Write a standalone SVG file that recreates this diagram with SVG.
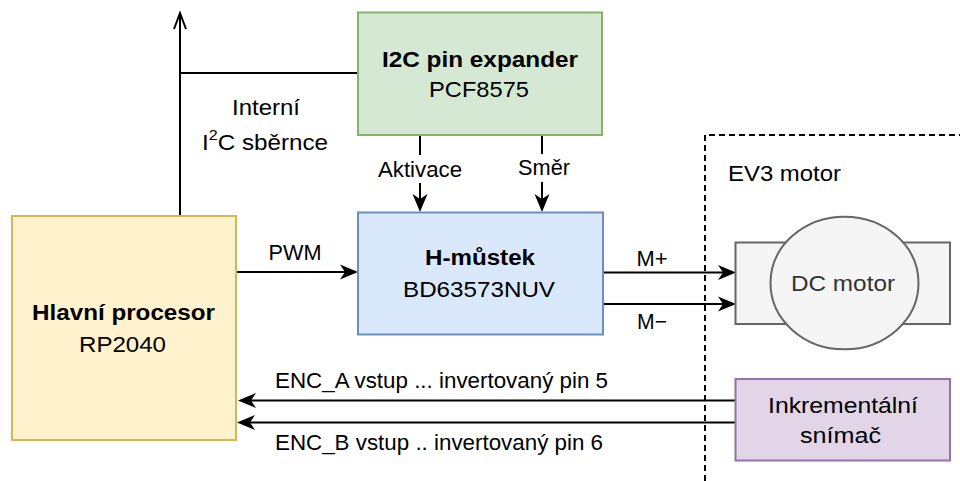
<svg xmlns="http://www.w3.org/2000/svg" width="960" height="481" viewBox="0 0 960 481">
<defs>
<style>
text{font-family:"Liberation Sans",Arial,Helvetica,sans-serif;font-size:22.5px;fill:#000;}
.m{text-anchor:middle;}
.b{font-weight:bold;}
.box{stroke-width:2;}
.ln{fill:none;stroke:#000;stroke-width:2;}
.arrow{marker-end:url(#arr);}
</style>
<marker id="arr" markerUnits="userSpaceOnUse" markerWidth="20" markerHeight="16" viewBox="0 0 20 16" refX="12" refY="8" orient="auto">
<path d="M18,8 L0,0.5 L5,8 L0,15.5 Z" fill="#000"/>
</marker>
</defs>
<rect width="960" height="481" fill="#fff"/>

<g id="ev3-frame">
<path d="M705,481 V135 H960" fill="none" stroke="#000" stroke-width="2" stroke-dasharray="6 4"/>
<text x="728" y="181" textLength="113" lengthAdjust="spacingAndGlyphs">EV3 motor</text>
</g>

<g id="connectors">
<path class="ln" d="M180,216 V14"/>
<polyline class="ln" points="174,29 180,13 186,29"/>
<path class="ln" d="M180,73 H358"/>
<path class="ln arrow" d="M236,272 H352"/>
<path class="ln arrow" d="M420,135 V206"/>
<path class="ln arrow" d="M542,135 V206"/>
<path class="ln arrow" d="M603,272.5 H730"/>
<path class="ln arrow" d="M603,304 H730"/>
<path class="ln arrow" d="M736,400.5 H244"/>
<path class="ln arrow" d="M736,422.5 H243"/>
<rect x="376" y="155" width="88" height="28" fill="#fff"/>
<rect x="516" y="154" width="56" height="28" fill="#fff"/>
<text class="m" x="420" y="176.5" textLength="84" lengthAdjust="spacingAndGlyphs">Aktivace</text>
<text class="m" x="544" y="175" textLength="52" lengthAdjust="spacingAndGlyphs">Směr</text>
<text class="m" x="266" y="115" textLength="68" lengthAdjust="spacingAndGlyphs">Interní</text>
<text class="m" x="265" y="150" textLength="126" lengthAdjust="spacingAndGlyphs">I<tspan dy="-10" font-size="15">2</tspan><tspan dy="10">C sběrnce</tspan></text>
<text class="m" x="295" y="260" textLength="53" lengthAdjust="spacingAndGlyphs">PWM</text>
<text class="m" x="652" y="266" textLength="31" lengthAdjust="spacingAndGlyphs">M+</text>
<text class="m" x="652" y="329" textLength="30" lengthAdjust="spacingAndGlyphs">M−</text>
<text class="m" x="441.5" y="388" textLength="333" lengthAdjust="spacingAndGlyphs">ENC_A vstup ... invertovaný pin 5</text>
<text class="m" x="439" y="450" textLength="328" lengthAdjust="spacingAndGlyphs">ENC_B vstup .. invertovaný pin 6</text>
</g>

<g id="i2c-expander">
<rect class="box" x="358" y="12.5" width="244" height="122.5" fill="#d5e8d4" stroke="#82b366"/>
<text class="m b" x="480" y="66.5" textLength="196" lengthAdjust="spacingAndGlyphs">I2C pin expander</text>
<text class="m" x="479" y="96.5" textLength="100" lengthAdjust="spacingAndGlyphs">PCF8575</text>
</g>

<g id="main-processor">
<rect class="box" x="12" y="216" width="224" height="224" fill="#fff2cc" stroke="#d6b656"/>
<text class="m b" x="123.5" y="320" textLength="183" lengthAdjust="spacingAndGlyphs">Hlavní procesor</text>
<text class="m" x="122.5" y="351.5" textLength="87" lengthAdjust="spacingAndGlyphs">RP2040</text>
</g>

<g id="h-bridge">
<rect class="box" x="358" y="212.5" width="245" height="122" fill="#dae8fc" stroke="#6c8ebf"/>
<text class="m b" x="480" y="265" textLength="110" lengthAdjust="spacingAndGlyphs">H-můstek</text>
<text class="m" x="479" y="296.5" textLength="152" lengthAdjust="spacingAndGlyphs">BD63573NUV</text>
</g>

<g id="dc-motor">
<rect class="box" x="735.5" y="242.5" width="214.5" height="81.5" fill="#f5f5f5" stroke="#666666"/>
<ellipse class="box" cx="844.5" cy="283" rx="74" ry="66.3" fill="#f5f5f5" stroke="#666666"/>
<text class="m" x="843" y="290.5" textLength="104" lengthAdjust="spacingAndGlyphs" style="fill:#333333">DC motor</text>
</g>

<g id="encoder">
<rect class="box" x="735.5" y="379" width="214.5" height="81.5" fill="#e1d5e7" stroke="#9673a6"/>
<text class="m" x="843" y="413" textLength="150" lengthAdjust="spacingAndGlyphs">Inkrementální</text>
<text class="m" x="840.5" y="442.5" textLength="81" lengthAdjust="spacingAndGlyphs">snímač</text>
</g>
</svg>
